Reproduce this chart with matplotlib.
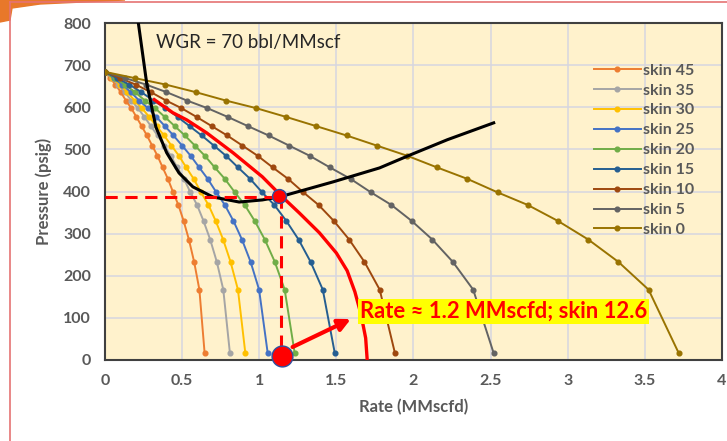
import matplotlib.pyplot as plt
from matplotlib.patches import Polygon
from matplotlib.lines import Line2D

plt.rcParams['font.family'] = ['Lato', 'DejaVu Sans']

# flowing pressure (psig) shared by every IPR curve
pwf = [684, 669, 654, 636, 616, 598, 577, 555, 533, 509,
       485, 457, 430, 398, 368, 330, 286, 233, 167, 16]

skins = ['skin 45', 'skin 35', 'skin 30', 'skin 25', 'skin 20',
         'skin 15', 'skin 10', 'skin 5', 'skin 0']
colors = ['#ED7D31', '#A5A5A5', '#FFC000', '#4472C4', '#70AD47',
          '#255E91', '#9E480E', '#636363', '#997300']

# gas rate (MMscfd) for each skin
rate_s45 = [0, .034, .068, .102, .136, .170, .204, .238, .272, .306,
            .340, .374, .408, .442, .476, .510, .544, .578, .612, .646]
rate_s35 = [0, .043, .085, .128, .171, .213, .256, .298, .341, .384,
            .426, .469, .512, .554, .597, .639, .682, .725, .767, .810]
rate_s30 = [0, .048, .096, .144, .192, .239, .287, .335, .383, .431,
            .479, .527, .575, .623, .671, .718, .766, .814, .862, .910]
rate_s25 = [0, .056, .111, .167, .222, .278, .333, .389, .444, .500,
            .555, .611, .666, .722, .777, .833, .888, .944, .999, 1.055]
rate_s20 = [0, .065, .129, .194, .259, .324, .388, .453, .518, .583,
            .647, .712, .777, .842, .906, .971, 1.036, 1.101, 1.165, 1.230]
rate_s15 = [0, .078, .157, .235, .314, .392, .471, .549, .627, .706,
            .784, .863, .941, 1.019, 1.098, 1.176, 1.255, 1.333, 1.412, 1.490]
rate_s10 = [0, .099, .198, .297, .396, .495, .594, .693, .792, .891,
            .989, 1.088, 1.187, 1.286, 1.385, 1.484, 1.583, 1.682, 1.781, 1.880]
rate_s5 = [0, .133, .265, .398, .531, .663, .796, .928, 1.061, 1.194,
           1.326, 1.459, 1.592, 1.724, 1.857, 1.989, 2.122, 2.255, 2.387, 2.520]
rate_s0 = [0, .196, .392, .587, .783, .979, 1.175, 1.371, 1.566, 1.762,
           1.958, 2.154, 2.349, 2.545, 2.741, 2.937, 3.133, 3.328, 3.524, 3.720]
rates = [rate_s45, rate_s35, rate_s30, rate_s25, rate_s20,
         rate_s15, rate_s10, rate_s5, rate_s0]

# interpolated IPR (skin 12.6)
red_q = [0.32, 0.44, 0.53, 0.66, 0.83, 1.02, 1.15, 1.26, 1.39, 1.50, 1.57, 1.62, 1.66, 1.69, 1.70]
red_p = [618, 587, 570, 539, 492, 435, 387, 349, 302, 254, 212, 162, 108, 52, 0]

# tubing performance curve
tpr_q = [0.205, 0.27, 0.33, 0.40, 0.48, 0.57, 0.70, 0.87, 1.02, 1.13, 1.48, 1.78, 1.98, 2.22, 2.52]
tpr_p = [830, 658, 553, 492, 444, 411, 387, 375, 380, 387, 423, 456, 487, 523, 563]

op_q, op_p = 1.13, 389
xticks = [0, 0.5, 1, 1.5, 2, 2.5, 3, 3.5, 4]
xticklabels = ['0', '0.5', '1', '1.5', '2', '2.5', '3', '3.5', '4']
yticks = [0, 100, 200, 300, 400, 500, 600, 700, 800]

fig = plt.figure(figsize=(7.27, 4.41), dpi=100)
ax = fig.add_axes([0.1444, 0.1837, 0.8487, 0.7641])
ax.set_facecolor('#FFF2CC')

for q, lab, c in zip(rates, skins, colors):
    ax.plot(q, pwf, color=c, lw=1.4, marker='o', ms=3.4, label=lab, zorder=3)

ax.plot(red_q, red_p, color='#FF0000', lw=2.4, zorder=4)
ax.plot(tpr_q, tpr_p, color='black', lw=2.2, zorder=5)

# operating point guides
ax.plot([0, op_q], [op_p - 2, op_p - 2], color='#FF0000', lw=2.2, ls=(0, (4, 2.5)), zorder=6)
ax.plot([op_q + 0.01, op_q + 0.01], [op_p, 0], color='#FF0000', lw=2.2, ls=(0, (4, 2.5)), zorder=6)
ax.plot(op_q, op_p, 'o', ms=10, color='#FF0000', mec='#2F4F9F', mew=1, zorder=7)
ax.plot(op_q + 0.02, 10, 'o', ms=15, color='#FF0000', mec='#2F4F9F', mew=1,
        zorder=8, clip_on=False)

ax.annotate('', xy=(1.61, 100), xytext=(1.2, 28),
            arrowprops=dict(arrowstyle='-|>', color='#FF0000', lw=3,
                            mutation_scale=18), zorder=8)
ax.text(1.655, 116, 'Rate \u2248 1.2 MMscfd; skin 12.6', color='#FF0000',
        fontsize=15.8, fontweight='bold', ha='left', va='center', zorder=9,
        bbox=dict(facecolor='#FFFF00', edgecolor='none', pad=1.5))
ax.text(0.33, 753, 'WGR = 70 bbl/MMscf', color='#262626', fontsize=13.5,
        ha='left', va='center')

ax.set_xlim(0, 4)
ax.set_ylim(0, 800)
ax.set_xticks(xticks)
ax.set_xticklabels(xticklabels)
ax.set_yticks(yticks)
ax.grid(color='#D6D6E0', lw=1.1)
ax.set_axisbelow(True)
ax.tick_params(length=0, pad=10, labelsize=11.5, labelcolor='#595959')
for lab in ax.get_xticklabels() + ax.get_yticklabels():
    lab.set_fontweight('bold')
for s in ax.spines.values():
    s.set_color('#404040')
    s.set_linewidth(1.5)

ax.set_xlabel('Rate (MMscfd)', fontsize=12, fontweight='bold', color='#595959', labelpad=8)
ax.set_ylabel('Pressure (psig)', fontsize=12, fontweight='bold', color='#595959', labelpad=8)

leg = ax.legend(loc='upper left', bbox_to_anchor=(0.793, 0.88), frameon=False,
                fontsize=11.5, labelspacing=0.36, handlelength=2.9, handletextpad=0.15,
                borderpad=0, borderaxespad=0)
for t in leg.get_texts():
    t.set_color('#595959')
    t.set_fontweight('bold')

# slide decorations
fig.add_artist(Line2D([10 / 727, 10 / 727], [0, 1 - 2 / 441], color='#E57373',
                      lw=1.2, transform=fig.transFigure))
fig.add_artist(Line2D([10 / 727, 1], [1 - 2 / 441, 1 - 2 / 441], color='#E57373',
                      lw=1.2, transform=fig.transFigure))
fig.add_artist(Polygon([(0, 1), (125 / 727, 1), (40 / 727, 1 - 4 / 441),
                        (12 / 727, 1 - 8 / 441), (10 / 727, 1 - 20 / 441), (0, 1 - 22 / 441)],
                       closed=True, color='#E8782A', transform=fig.transFigure))

fig.savefig('out.png', dpi=100)
